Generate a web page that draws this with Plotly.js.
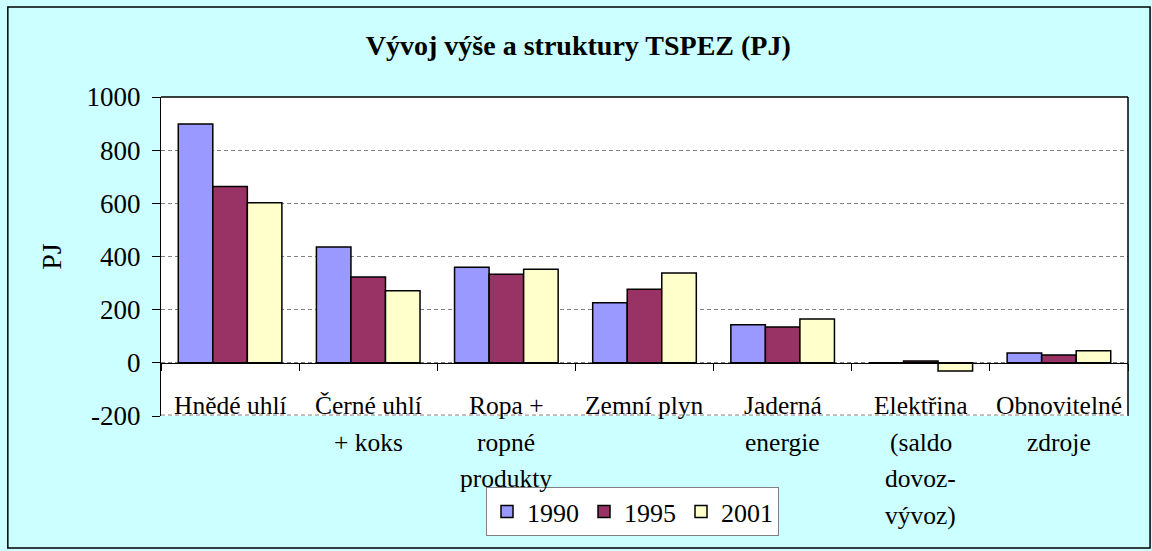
<!DOCTYPE html>
<html><head><meta charset="utf-8">
<script src="https://cdn.plot.ly/plotly-3.0.1.min.js"></script>
<style>html,body{margin:0;padding:0;background:#CCFFFF;}#chart{width:1152px;height:551px;}</style>
</head><body><div id="chart"></div>
<script>
const categories = ["Hnědé uhlí", "Černé uhlí + koks", "Ropa + ropné produkty", "Zemní plyn", "Jaderná energie", "Elektřina (saldo dovoz-vývoz)", "Obnovitelné zdroje"];
const labelLines = [["Hnědé uhlí"], ["Černé uhlí", "+ koks"], ["Ropa +", "ropné", "produkty"], ["Zemní plyn"], ["Jaderná", "energie"], ["Elektřina", "(saldo", "dovoz-", "vývoz)"], ["Obnovitelné", "zdroje"]];
const series = ["1990", "1995", "2001"];
const v1990 = [898, 436, 360, 226, 143, 0, 37];
const v1995 = [663, 323, 333, 277, 135, 7, 29];
const v2001 = [602, 271, 352, 338, 165, -31, 45];
const colors = ["#9999FF", "#993366", "#FFFFCC"];
const yTicks = [-200, 0, 200, 400, 600, 800, 1000];
const yTickText = ["-200", "0", "200", "400", "600", "800", "1000"];

const F = "Liberation Serif";
const vals = [v1990, v1995, v2001];
const traces = series.map((s, i) => ({
  type: "bar", name: s, x: categories, y: vals[i],
  marker: {color: colors[i], line: {color: "#000", width: 1.5}}
}));

const annotations = [];
labelLines.forEach((lines, ci) => {
  lines.forEach((t, li) => {
    annotations.push({x: categories[ci], xref: "x", y: 0.0846 - li * 0.115, yref: "paper",
      yanchor: "top", text: t, showarrow: false, font: {family: F, size: 25.5, color: "#000"}});
  });
});

const layout = {
  width: 1152, height: 551,
  paper_bgcolor: "#CCFFFF", plot_bgcolor: "#FFFFFF",
  margin: {l: 161, r: 24, t: 97, b: 135},
  title: {text: "<b>Vývoj výše a struktury TSPEZ (PJ)</b>", x: 0.502, xref: "container", y: 0.918, yanchor: "middle",
    font: {family: F, size: 28, color: "#000"}},
  barmode: "group", bargap: 0.25, bargroupgap: 0,
  xaxis: {type: "category", anchor: "free", position: 1/6, showline: true, linecolor: "#000", linewidth: 1,
    ticks: "outside", tickson: "boundaries", ticklen: 7, tickcolor: "#000", showticklabels: false,
    showgrid: false, zeroline: false},
  yaxis: {range: [-200, 1000], tickvals: yTicks, ticktext: yTickText, ticks: "outside", ticklen: 8, tickcolor: "#000",
    ticklabelstandoff: 6,
    showline: true, linecolor: "#000", linewidth: 1,
    gridcolor: "#808080", griddash: "4px,3px", gridwidth: 1, zeroline: false,
    tickfont: {family: F, size: 27, color: "#000"},
    title: {text: "PJ", font: {family: F, size: 28, color: "#000"}, standoff: 16}},
  showlegend: true,
  legend: {orientation: "h", x: 0.4876, xanchor: "center", y: -0.223, yanchor: "top",
    bgcolor: "#FFFFFF", bordercolor: "#808080", borderwidth: 1,
    font: {family: F, size: 26, color: "#000"}, traceorder: "normal"},
  annotations: annotations,
  shapes: [
    {type: "line", xref: "paper", yref: "paper", x0: 0, x1: 1, y0: 1, y1: 1, line: {color: "#000", width: 1.5}},
    {type: "line", xref: "paper", yref: "paper", x0: 1, x1: 1, y0: 0, y1: 1, line: {color: "#000", width: 1.5}},
    {type: "line", xref: "paper", yref: "paper", x0: 0, x1: 1, y0: 0.003, y1: 0.003, line: {color: "#808080", width: 1, dash: "4px,3px"}},
    {type: "rect", xref: "paper", yref: "paper", x0: -0.1584, x1: 1.0228, y0: -0.4138, y1: 1.282, line: {color: "#000", width: 1.5}}
  ]
};
Plotly.newPlot("chart", traces, layout, {staticPlot: true});
</script></body></html>
